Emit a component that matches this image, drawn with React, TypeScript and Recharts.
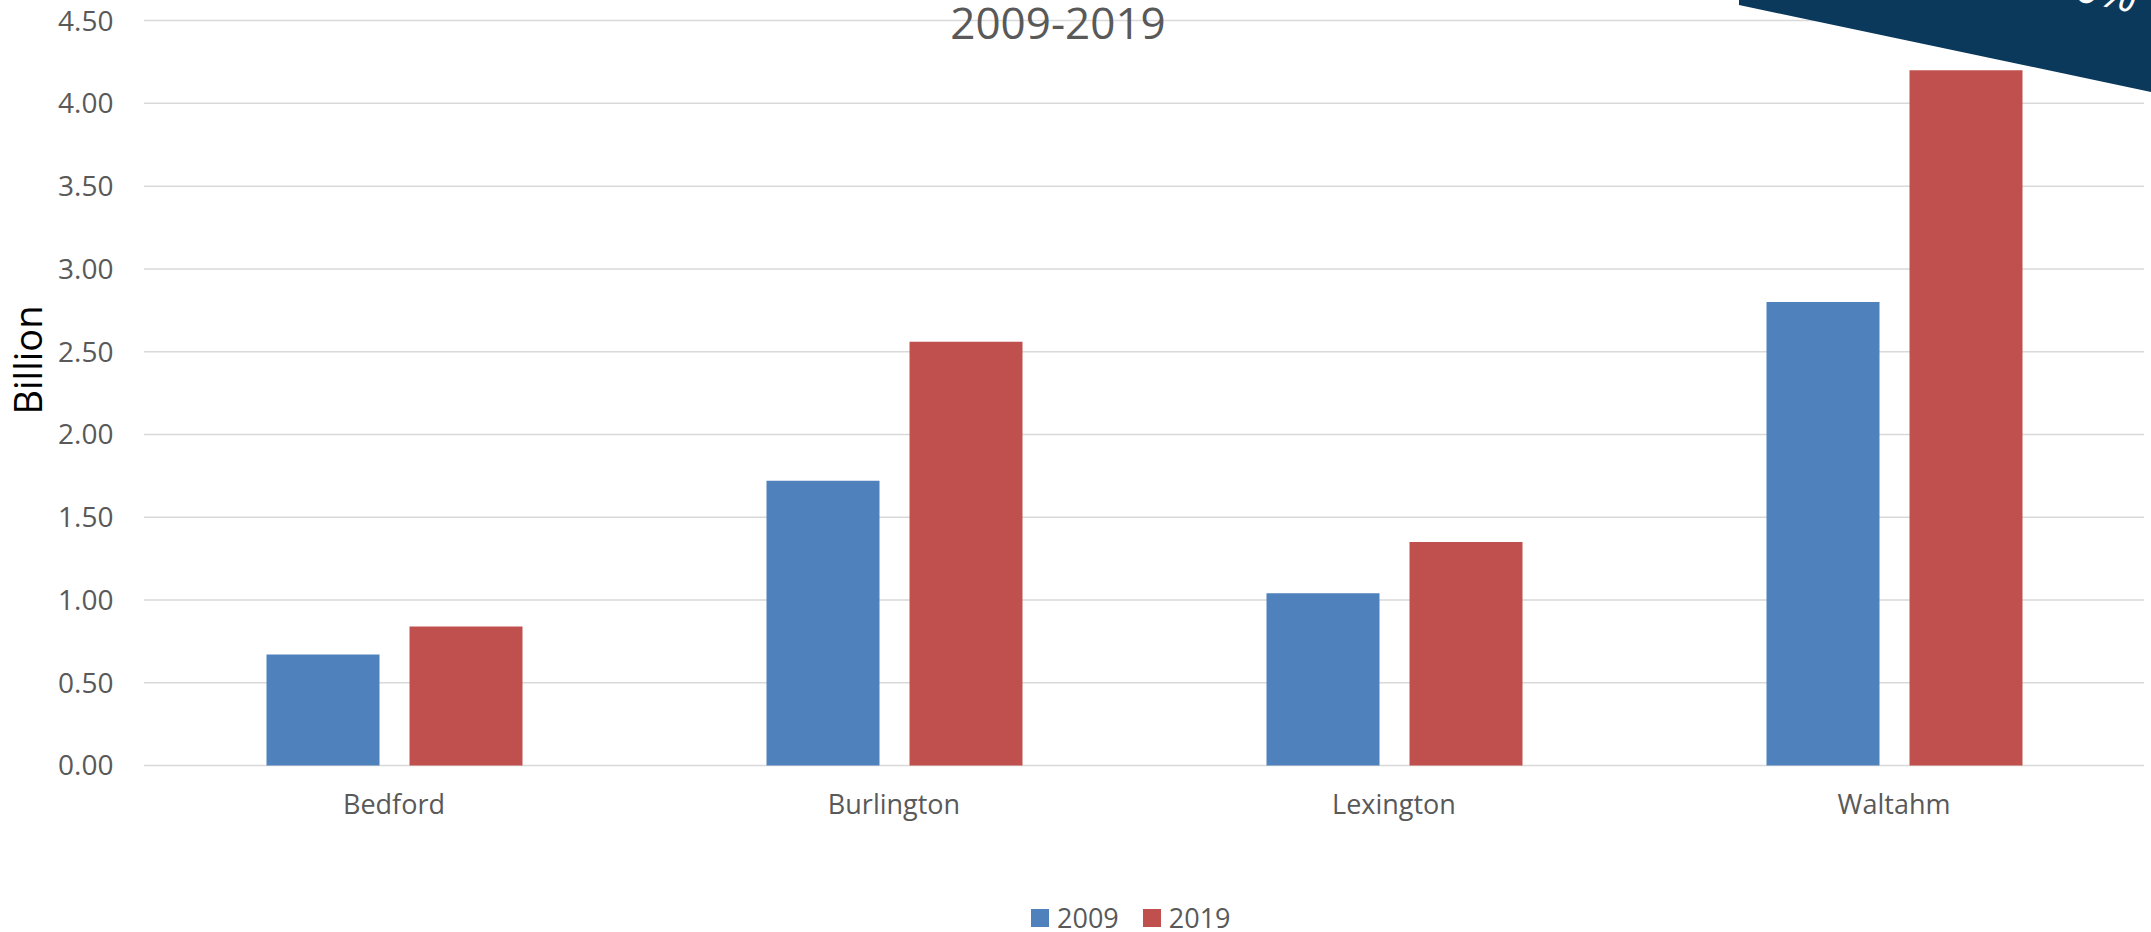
import React from 'react';
import { BarChart, Bar, XAxis, YAxis, CartesianGrid, Legend } from 'recharts';

const categories = ['Bedford', 'Burlington', 'Lexington', 'Waltahm'];
const values2009 = [0.67, 1.72, 1.04, 2.8];
const values2019 = [0.84, 2.56, 1.35, 4.2];
const seriesNames = ['2009', '2019'];
const seriesColors = ['#4f81bd', '#c0504d'];
const yTicks = [0, 0.5, 1, 1.5, 2, 2.5, 3, 3.5, 4, 4.5];

const data = categories.map((name, i) => ({
  name,
  v2009: values2009[i],
  v2019: values2019[i],
}));

const FONT = '"Open Sans", sans-serif';
const GREY = '#595959';

function LegendContent({ payload }: any) {
  return (
    <div
      style={{
        display: 'flex',
        alignItems: 'center',
        height: 28,
        paddingLeft: 1031,
        fontFamily: FONT,
        fontSize: 27,
        color: GREY,
      }}
    >
      {(payload || []).map((p: any, i: number) => (
        <div key={i} style={{ display: 'flex', alignItems: 'center', marginRight: 24 }}>
          <span style={{ width: 18, height: 18, background: p.color, marginRight: 8 }} />
          <span style={{ lineHeight: '28px' }}>{p.value}</span>
        </div>
      ))}
    </div>
  );
}

export default function App() {
  return (
    <div style={{ position: 'absolute', left: 0, top: 0, width: 2151, height: 932, background: '#fff' }}>
      <BarChart
        width={2151}
        height={932}
        data={data}
        margin={{ top: 20.6, right: 7, left: 0, bottom: 0 }}
        barCategoryGap="24.5%"
        barGap={30}
        style={{ fontFamily: FONT }}
      >
        <CartesianGrid vertical={false} stroke="#d9d9d9" strokeWidth={1.5} />
        <XAxis
          dataKey="name"
          height={138.5}
          axisLine={false}
          tickLine={false}
          tickMargin={23.5}
          tick={{ fontSize: 27, fill: GREY, fontFamily: FONT }}
        />
        <YAxis
          width={144}
          domain={[0, 4.5]}
          ticks={yTicks}
          interval={0}
          axisLine={false}
          tickLine={false}
          tickMargin={24.5}
          tickFormatter={(v: number) => v.toFixed(2)}
          tick={{ fontSize: 28, fill: GREY, fontFamily: FONT }}
          label={{
            content: () => (
              <text
                x={27}
                y={360}
                transform="rotate(-90 27 360)"
                textAnchor="middle"
                dominantBaseline="central"
                fontSize={38}
                fontFamily={FONT}
                fill="#000"
              >
                Billion
              </text>
            ),
          }}
        />
        <Legend
          verticalAlign="bottom"
          wrapperStyle={{ left: 0, width: 2151 }}
          content={<LegendContent />}
        />
        <Bar dataKey="v2009" name={seriesNames[0]} fill={seriesColors[0]} isAnimationActive={false} />
        <Bar dataKey="v2019" name={seriesNames[1]} fill={seriesColors[1]} isAnimationActive={false} />
      </BarChart>
      <svg
        width={2151}
        height={932}
        style={{ position: 'absolute', left: 0, top: 0, pointerEvents: 'none' }}
      >
        <text x={1058} y={39} textAnchor="middle" fontSize={44} fontFamily={FONT} fill={GREY}>
          2009-2019
        </text>
        <polygon points="1739,0 2151,0 2151,92 1739,5" fill="#0b395b" />
        <text
          x={2134}
          y={13}
          textAnchor="end"
          fontSize={46}
          fontFamily={FONT}
          fontStyle="italic"
          fill="#fff"
          transform="rotate(12 2134 13)"
        >
          +50%
        </text>
      </svg>
    </div>
  );
}
